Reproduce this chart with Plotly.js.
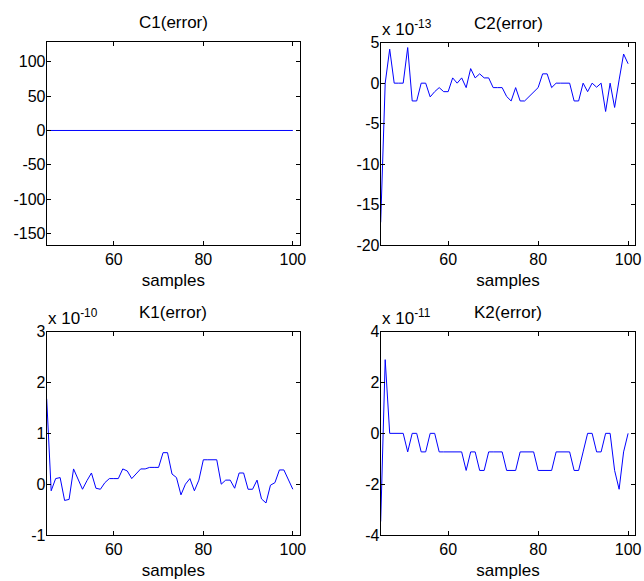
<!DOCTYPE html>
<html>
<head>
<meta charset="utf-8">
<script src="https://cdn.plot.ly/plotly-3.0.1.min.js"></script>
<style>html,body{margin:0;padding:0;background:#fff;}#plot{width:644px;height:581px;}</style>
</head>
<body>
<div id="plot"></div>
<script>
var samples = [45,46,47,48,49,50,51,52,53,54,55,56,57,58,59,60,61,62,63,64,65,66,67,68,69,70,71,72,73,74,75,76,77,78,79,80,81,82,83,84,85,86,87,88,89,90,91,92,93,94,95,96,97,98,99,100];
var c1Error = [0,0,0,0,0,0,0,0,0,0,0,0,0,0,0,0,0,0,0,0,0,0,0,0,0,0,0,0,0,0,0,0,0,0,0,0,0,0,0,0,0,0,0,0,0,0,0,0,0,0,0,0,0,0,0,0];
// C2 error, units of 1e-13
var c2Error = [-17.2,0,4.2,0,0,0,4.4,-2.2,-2.2,0,0,-1.7,-1.05,-0.55,-1.05,-1.05,0.65,0,0.65,-0.55,1.8,0.65,1.15,0.65,0.65,-0.55,-0.55,-0.55,-1.65,-2.2,-0.55,-2.2,-2.2,-1.65,-1.1,-0.55,1.15,1.15,-0.55,0,0,0,0,-2.2,-2.2,0,-1.05,0,-0.5,0,-3.5,0,-3.0,0.4,3.6,2.4];
// K1 error, units of 1e-10
var k1Error = [1.68,-0.13,0.11,0.13,-0.32,-0.3,0.3,0.09,-0.1,0.07,0.22,-0.08,-0.1,0.03,0.11,0.11,0.11,0.3,0.26,0.11,0.2,0.3,0.3,0.33,0.33,0.33,0.62,0.62,0.2,0.13,-0.21,0.0,0.11,-0.13,0.08,0.48,0.48,0.48,0.48,0,0.08,0.08,-0.08,0.22,0.22,-0.1,-0.1,0.08,-0.29,-0.37,-0.02,0.03,0.28,0.28,0.08,-0.1];
// K2 error, units of 1e-11
var k2Error = [-3.47,2.9,0,0,0,0,-0.73,0,0,-0.73,-0.73,0,0,-0.73,-0.73,-0.73,-0.73,-0.73,-0.73,-1.46,-0.73,-0.73,-1.46,-1.46,-0.73,-0.73,-0.73,-0.73,-1.46,-1.46,-1.46,-0.73,-0.73,-0.73,-0.73,-1.46,-1.46,-1.46,-1.46,-0.73,-0.73,-0.73,-0.73,-1.46,-1.46,-0.73,0,0,-0.73,-0.73,0,0,-1.46,-2.2,-0.73,0];

var titles = ['C1(error)','C2(error)','K1(error)','K2(error)'];
var exponents = ['', 'x 10<sup>-13</sup>', 'x 10<sup>-10</sup>', 'x 10<sup>-11</sup>'];
var xTicks = [60,80,100];
var c1Ticks = [100,50,0,-50,-100,-150];
var c2Ticks = [5,0,-5,-10,-15,-20];
var k1Ticks = [3,2,1,0,-1];
var k2Ticks = [4,2,0,-2,-4];

var font = 'Arial, "Liberation Sans", Helvetica, sans-serif';
var W = 644, H = 581;
var boxes = [
  {l:46.7, r:300, t:42, b:245},
  {l:380.7, r:635.3, t:42.7, b:245},
  {l:46.7, r:300, t:331.7, b:535},
  {l:380.7, r:635.3, t:331.7, b:535}
];
var yRanges = [[-167,129],[-20,5],[-1,3],[-4,4]];
var yTickSets = [c1Ticks, c2Ticks, k1Ticks, k2Ticks];
var series = [c1Error, c2Error, k1Error, k2Error];

var data = [];
var layout = {
  width: W, height: H,
  margin: {l:0, r:0, t:0, b:0},
  paper_bgcolor: '#ffffff', plot_bgcolor: '#ffffff',
  showlegend: false,
  font: {family: font, size: 16, color: '#000'},
  annotations: []
};

for (var i = 0; i < 4; i++) {
  var n = i + 1;
  var sfx = (n === 1 ? '' : String(n));
  var bx = boxes[i];
  data.push({
    x: samples, y: series[i], type: 'scatter', mode: 'lines',
    xaxis: 'x' + sfx, yaxis: 'y' + sfx,
    line: {color: '#0000ff', width: 1}, hoverinfo: 'none'
  });
  layout['xaxis' + sfx] = {
    domain: [bx.l / W, bx.r / W], anchor: 'y' + sfx,
    range: [45, 101.6], tickvals: xTicks, ticktext: xTicks.map(String),
    ticks: 'inside', ticklen: 4, tickcolor: '#000', tickwidth: 1,
    showline: true, linecolor: '#000', linewidth: 1, mirror: 'ticks',
    showgrid: false, zeroline: false,
    tickfont: {family: font, size: 16, color: '#000'},
    title: {text: 'samples', font: {family: font, size: 17, color: '#000'}, standoff: 6}
  };
  layout['yaxis' + sfx] = {
    domain: [1 - bx.b / H, 1 - bx.t / H], anchor: 'x' + sfx,
    range: yRanges[i], tickvals: yTickSets[i], ticktext: yTickSets[i].map(String),
    ticks: 'inside', ticklen: 4, tickcolor: '#000', tickwidth: 1,
    ticklabelstandoff: -3,
    showline: true, linecolor: '#000', linewidth: 1, mirror: 'ticks',
    showgrid: false, zeroline: false,
    tickfont: {family: font, size: 16, color: '#000'}
  };
  layout.annotations.push({
    text: titles[i], xref: 'paper', yref: 'paper',
    x: (bx.l + bx.r) / 2 / W, y: 1 - (bx.t - 19) / H,
    xanchor: 'center', yanchor: 'middle', showarrow: false,
    font: {family: font, size: 17, color: '#000'}
  });
  if (exponents[i]) {
    layout.annotations.push({
      text: exponents[i], xref: 'paper', yref: 'paper',
      x: (bx.l - 1) / W, y: 1 - (bx.t - 2) / H,
      xanchor: 'left', yanchor: 'bottom', showarrow: false,
      font: {family: font, size: 17, color: '#000'}
    });
  }
}

Plotly.newPlot('plot', data, layout, {displayModeBar: false, staticPlot: true});
</script>
</body>
</html>
